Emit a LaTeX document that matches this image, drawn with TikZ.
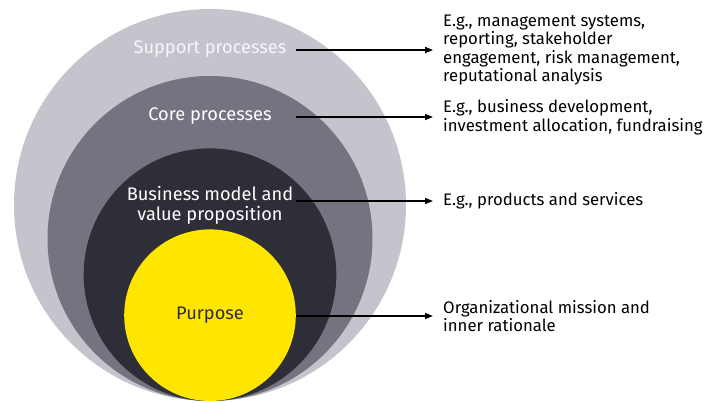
\documentclass[tikz,border=0pt]{standalone}
\usepackage{fontspec}
\setmainfont{Fira Sans}
\usetikzlibrary{arrows.meta}
\definecolor{eylight}{HTML}{C4C4CD}
\definecolor{eymid}{HTML}{74737F}
\definecolor{eydark}{HTML}{2E2E38}
\definecolor{eyyellow}{HTML}{FFE600}
\definecolor{eypale}{HTML}{F6F6FA}
\begin{document}
\begin{tikzpicture}[x=1bp,y=1bp,
	ring/.style={font=\fontsize{18.3}{20}\selectfont,text=white,align=center,inner sep=0pt},
	note/.style={anchor=west,align=left,inner xsep=10bp,inner ysep=0pt,font=\fontsize{16.8}{18.6}\selectfont},
	pointer/.style={-{Triangle[length=8bp,width=6bp]},line width=1.6bp}]
	\useasboundingbox (0,0) rectangle (713,402);
	\fill[eylight] (210,197) circle (196);
	\fill[eymid] (210,163.5) circle (162.5);
	\fill[eydark] (210,127.3) circle (126.3);
	\node[circle,fill=eyyellow,minimum size=171.6bp,inner sep=0pt,text=eydark,font=\fontsize{18.3}{20}\selectfont] (purpose) at (210,86.8) {Purpose};
	\node[ring,text=eypale] (support) at (210,353) {Support processes};
	\node[ring] (core) at (210,286) {Core processes};
	\node[ring] (business) at (210,197) {Business model and\\value proposition};
	\node[note] (supportnote) at (433,352) {E.g., management systems,\\reporting, stakeholder\\engagement, risk management,\\reputational analysis};
	\node[note] (corenote) at (433,285) {E.g., business development,\\investment allocation, fundraising};
	\node[note] (businessnote) at (433,201) {E.g., products and services};
	\node[note] (purposenote) at (433,86) {Organizational mission and\\inner rationale};
	\foreach \n in {supportnote,corenote,businessnote,purposenote}
		\draw[pointer] (purpose.east |- \n.west) -- (\n.west);
\end{tikzpicture}
\end{document}
